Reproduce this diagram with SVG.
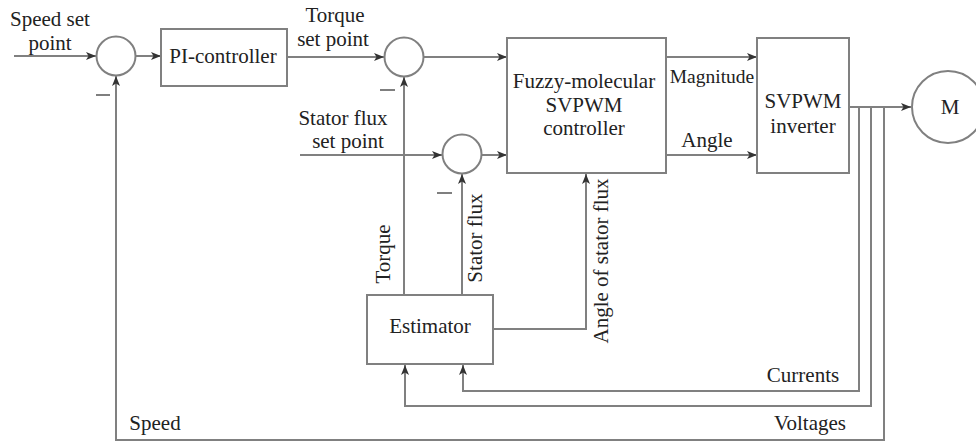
<svg xmlns="http://www.w3.org/2000/svg" width="976" height="444" viewBox="0 0 976 444">
<defs>
<marker id="arr" viewBox="0 0 10 8" refX="10" refY="4" markerWidth="10" markerHeight="8" markerUnits="userSpaceOnUse" orient="auto">
<path d="M0,0 L10,4 L0,8 L2.5,4 Z" fill="#333"/>
</marker>
<style>
.box{fill:#fff;stroke:#808080;stroke-width:2}
.ln{fill:none;stroke:#808080;stroke-width:2}
.ar{marker-end:url(#arr)}
.c{text-anchor:middle}
</style>
</defs>
<rect width="976" height="444" fill="#fff"/>
<g id="connectors">
<line class="ln ar" x1="14" y1="56" x2="96" y2="56"/>
<line class="ln ar" x1="136" y1="56" x2="161" y2="56"/>
<line class="ln ar" x1="287" y1="57" x2="384" y2="57"/>
<line class="ln ar" x1="424" y1="57" x2="507" y2="57"/>
<line class="ln ar" x1="300" y1="155" x2="442" y2="155"/>
<line class="ln ar" x1="482" y1="155" x2="507" y2="155"/>
<line class="ln ar" x1="666" y1="57" x2="757" y2="57"/>
<line class="ln ar" x1="666" y1="155" x2="757" y2="155"/>
<line class="ln ar" x1="849" y1="107" x2="911" y2="107"/>
<line class="ln ar" x1="404" y1="295" x2="404" y2="77"/>
<line class="ln ar" x1="462" y1="295" x2="462" y2="174"/>
<polyline class="ln ar" points="493,329 586,329 586,174"/>
<polyline class="ln ar" points="859,107 859,391 463,391 463,365"/>
<polyline class="ln ar" points="871,107 871,406 405,406 405,365"/>
<polyline class="ln ar" points="884,107 884,440 116,440 116,76"/>
</g>
<g font-family="'Liberation Serif', 'Times New Roman', serif" font-size="21" fill="#222">
<g id="sum1"><circle class="box" cx="116" cy="56" r="19.5"/><line x1="96" y1="95" x2="110" y2="95" stroke="#555" stroke-width="1.5"/></g>
<g id="pi"><rect class="box" x="161" y="29" width="126" height="57"/><text class="c" x="223" y="63">PI-controller</text></g>
<g id="sum2"><circle class="box" cx="404" cy="57" r="19.5"/><line x1="380" y1="90" x2="395" y2="90" stroke="#555" stroke-width="1.5"/></g>
<g id="sum3"><circle class="box" cx="462" cy="154" r="19.5"/><line x1="437" y1="193" x2="452" y2="193" stroke="#555" stroke-width="1.5"/></g>
<g id="fuzzy"><rect class="box" x="507" y="38" width="159" height="135"/>
<text class="c" x="584" y="88">Fuzzy-molecular</text>
<text class="c" x="584" y="112">SVPWM</text>
<text class="c" x="584" y="135">controller</text></g>
<g id="inverter"><rect class="box" x="757" y="38" width="92" height="135"/>
<text class="c" x="803" y="108">SVPWM</text>
<text class="c" x="803" y="133">inverter</text></g>
<g id="motor"><circle class="box" cx="948" cy="107" r="36"/><text class="c" x="950" y="114">M</text></g>
<g id="estimator"><rect class="box" x="367" y="295" width="126" height="69"/><text class="c" x="430" y="333">Estimator</text></g>
<g id="labels">
<text class="c" x="50" y="26">Speed set</text>
<text class="c" x="50" y="50">point</text>
<text class="c" x="335" y="22">Torque</text>
<text class="c" x="333" y="46">set point</text>
<text class="c" x="343" y="125">Stator flux</text>
<text class="c" x="348" y="148">set point</text>
<text class="c" x="712" y="83" font-size="19.5">Magnitude</text>
<text class="c" x="707" y="147">Angle</text>
<text class="c" transform="translate(390,254) rotate(-90)">Torque</text>
<text class="c" transform="translate(482,238) rotate(-90)">Stator flux</text>
<text class="c" transform="translate(608,261) rotate(-90)">Angle of stator flux</text>
<text class="c" x="803" y="382">Currents</text>
<text class="c" x="810" y="430">Voltages</text>
<text class="c" x="155" y="430">Speed</text>
</g>
</g>
</svg>
